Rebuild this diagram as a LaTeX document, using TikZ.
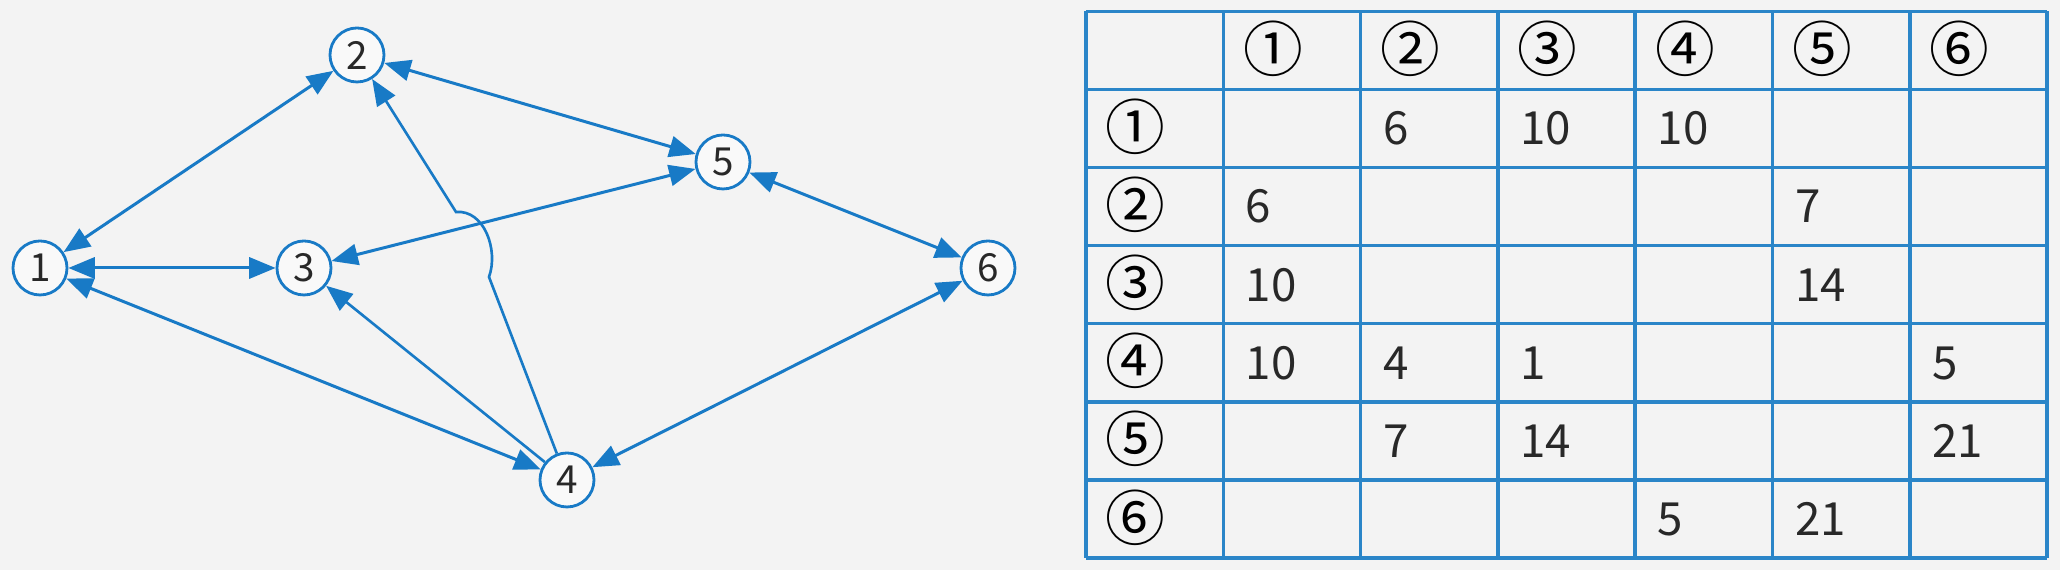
\documentclass[tikz,border=0pt]{standalone}
\usepackage{fontspec}
\setmainfont{Noto Sans CJK JP}
\usetikzlibrary{arrows.meta}
\definecolor{edgeblue}{RGB}{24,122,198}
\definecolor{gridblue}{RGB}{42,133,200}
\definecolor{paper}{RGB}{243,243,243}
\definecolor{ink}{RGB}{40,40,40}

\begin{document}
\begin{tikzpicture}[
  vertex/.style={circle, draw=edgeblue, line width=0.8pt, fill=white!50!paper,
                 minimum size=0.54cm, inner sep=0pt, text=ink,
                 font=\fontsize{11}{13}\selectfont},
  link/.style={edgeblue, line width=0.85pt,
               {Triangle[length=7.5pt,width=6pt]}-{Triangle[length=7.5pt,width=6pt]}},
  oneway/.style={edgeblue, line width=0.75pt, -{Triangle[length=7.5pt,width=6pt]}},
  tabline/.style={draw=gridblue, line width=1pt},
  cell/.style={anchor=base west, inner sep=0pt, text=ink,
               font=\fontsize{13}{15}\selectfont},
  circnum/.style={anchor=base west, inner sep=0pt, text=black,
                  font=\fontsize{17}{19}\selectfont}
]
  \fill[paper] (0,0) rectangle (20.6,5.7);
  \useasboundingbox (0,0) rectangle (20.6,5.7);

  \node[vertex] (n1) at (0.40,3.02) {1};
  \node[vertex] (n2) at (3.57,5.15) {2};
  \node[vertex] (n3) at (3.04,3.02) {3};
  \node[vertex] (n4) at (5.67,0.90) {4};
  \node[vertex] (n5) at (7.23,4.08) {5};
  \node[vertex] (n6) at (9.88,3.02) {6};
  \coordinate (hopA) at (4.89,2.93);
  \coordinate (hopB) at (4.56,3.58);

  \draw[link] (n1) -- (n2);
  \draw[link] (n1) -- (n3);
  \draw[link] (n1) -- (n4);
  \draw[link] (n2) -- (n5);
  \draw[link] (n3) -- (n5);
  \draw[link] (n5) -- (n6);
  \draw[link] (n4) -- (n6);
  \draw[oneway] (n4) -- (n3);
  \draw[oneway] (n4) -- (hopA) to[out=70, in=5] (hopB) -- (n2);

  \begin{scope}[shift={(10.86,0.12)}, x=1.373cm, y=0.781cm]
    \draw[tabline, step=1] (0,0) grid (7,7);

    \node[circnum] (h1) at (1.14,6.23) {①};
    \node[circnum] (h2) at (2.14,6.23) {②};
    \node[circnum] (h3) at (3.14,6.23) {③};
    \node[circnum] (h4) at (4.14,6.23) {④};
    \node[circnum] (h5) at (5.14,6.23) {⑤};
    \node[circnum] (h6) at (6.14,6.23) {⑥};
    \node[circnum] (v1) at (0.14,5.23) {①};
    \node[circnum] (v2) at (0.14,4.23) {②};
    \node[circnum] (v3) at (0.14,3.23) {③};
    \node[circnum] (v4) at (0.14,2.23) {④};
    \node[circnum] (v5) at (0.14,1.23) {⑤};
    \node[circnum] (v6) at (0.14,0.23) {⑥};

    \node[cell] (r1c2) at (2.16,5.29) {6};
    \node[cell] (r1c3) at (3.16,5.29) {10};
    \node[cell] (r1c4) at (4.16,5.29) {10};
    \node[cell] (r2c1) at (1.16,4.29) {6};
    \node[cell] (r2c5) at (5.16,4.29) {7};
    \node[cell] (r3c1) at (1.16,3.29) {10};
    \node[cell] (r3c5) at (5.16,3.29) {14};
    \node[cell] (r4c1) at (1.16,2.29) {10};
    \node[cell] (r4c2) at (2.16,2.29) {4};
    \node[cell] (r4c3) at (3.16,2.29) {1};
    \node[cell] (r4c6) at (6.16,2.29) {5};
    \node[cell] (r5c2) at (2.16,1.29) {7};
    \node[cell] (r5c3) at (3.16,1.29) {14};
    \node[cell] (r5c6) at (6.16,1.29) {21};
    \node[cell] (r6c4) at (4.16,0.29) {5};
    \node[cell] (r6c5) at (5.16,0.29) {21};
  \end{scope}
\end{tikzpicture}
\end{document}
